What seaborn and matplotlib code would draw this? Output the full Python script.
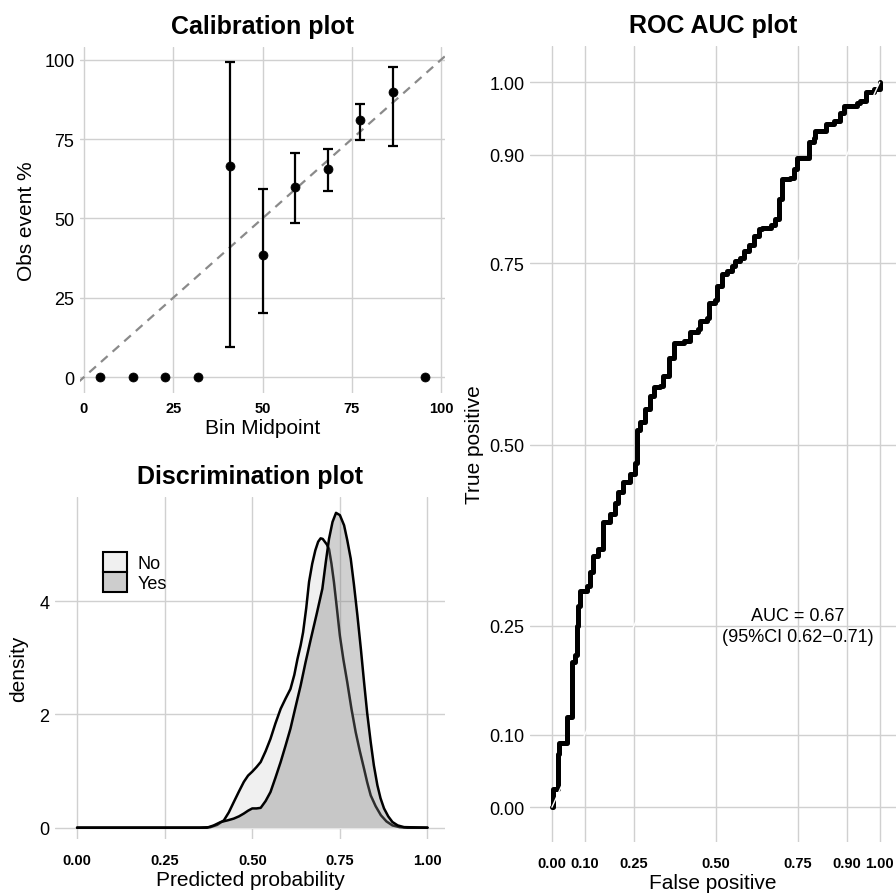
import matplotlib
matplotlib.use("Agg")
import matplotlib.pyplot as plt
from matplotlib.patches import Patch
import seaborn as sns
import pandas as pd

# calibration plot data
bin_mid = [4.5, 13.6, 22.7, 31.8, 40.9, 50.0, 59.1, 68.2, 77.3, 86.4, 95.5]
obs_pct = [0, 0, 0, 0, 66.6, 38.5, 59.8, 65.5, 80.9, 89.7, 0]
ci_low = [0, 0, 0, 0, 9.4, 20.3, 48.6, 58.7, 74.7, 72.7, 0]
ci_high = [0, 0, 0, 0, 99.3, 59.4, 70.6, 71.9, 85.9, 97.7, 0]
has_ci = [False, False, False, False, True, True, True, True, True, True, False]

# discrimination plot (density curves)
no_x = [0.0, 0.25, 0.35, 0.381, 0.40, 0.419, 0.433, 0.447, 0.462, 0.476, 0.488, 0.50,
        0.512, 0.524, 0.538, 0.552, 0.566, 0.581, 0.595, 0.609, 0.62, 0.629, 0.638,
        0.645, 0.654, 0.662, 0.671, 0.68, 0.688, 0.695, 0.701, 0.707, 0.713, 0.719,
        0.726, 0.733, 0.741, 0.75, 0.76, 0.771, 0.783, 0.795, 0.807, 0.819, 0.828,
        0.838, 0.852, 0.867, 0.883, 0.90, 0.92, 0.943, 1.0]
no_d = [0, 0, 0, 0.01, 0.05, 0.13, 0.27, 0.45, 0.64, 0.81, 0.92, 0.99,
        1.07, 1.16, 1.35, 1.57, 1.84, 2.10, 2.28, 2.45, 2.70, 2.98, 3.22,
        3.45, 3.88, 4.34, 4.66, 4.90, 5.05, 5.11, 5.10, 5.05, 5.00, 4.92,
        4.66, 4.34, 3.90, 3.39, 2.97, 2.57, 2.10, 1.69, 1.35, 1.04, 0.80,
        0.57, 0.38, 0.22, 0.11, 0.04, 0.01, 0, 0]
yes_x = [0.0, 0.25, 0.35, 0.371, 0.39, 0.41, 0.43, 0.447, 0.462, 0.476, 0.488, 0.50,
         0.512, 0.524, 0.538, 0.552, 0.566, 0.581, 0.595, 0.609, 0.623, 0.638, 0.652,
         0.667, 0.684, 0.70, 0.71, 0.719, 0.729, 0.739, 0.75, 0.762, 0.771, 0.781,
         0.79, 0.80, 0.81, 0.819, 0.828, 0.838, 0.847, 0.857, 0.866, 0.876, 0.888,
         0.90, 0.915, 0.933, 1.0]
yes_d = [0, 0, 0, 0, 0.04, 0.10, 0.13, 0.16, 0.20, 0.25, 0.30, 0.34,
         0.34, 0.35, 0.47, 0.63, 0.88, 1.16, 1.45, 1.75, 2.12, 2.51, 2.92,
         3.33, 3.78, 4.22, 4.70, 5.10, 5.40, 5.56, 5.52, 5.34, 5.08, 4.75,
         4.30, 3.75, 3.15, 2.57, 2.02, 1.51, 1.10, 0.75, 0.52, 0.34, 0.20,
         0.10, 0.04, 0.01, 0]

# ROC curve points
fpr = [0.0, 0.003, 0.017, 0.02, 0.045, 0.046, 0.06, 0.07, 0.075, 0.08, 0.085, 0.106,
       0.116, 0.126, 0.141, 0.157, 0.177, 0.193, 0.203, 0.218, 0.239, 0.254, 0.259,
       0.269, 0.284, 0.298, 0.31, 0.33, 0.34, 0.356, 0.371, 0.402, 0.422, 0.447,
       0.452, 0.472, 0.478, 0.498, 0.503, 0.519, 0.534, 0.55, 0.56, 0.575, 0.585,
       0.601, 0.616, 0.631, 0.641, 0.667, 0.682, 0.692, 0.702, 0.727, 0.738, 0.748,
       0.779, 0.784, 0.799, 0.804, 0.835, 0.86, 0.88, 0.891, 0.931, 0.941, 0.957,
       0.982, 1.0]
tpr = [0.0, 0.025, 0.073, 0.089, 0.098, 0.124, 0.20, 0.21, 0.25, 0.278, 0.298, 0.305,
       0.324, 0.347, 0.356, 0.393, 0.404, 0.42, 0.435, 0.448, 0.459, 0.475, 0.521,
       0.531, 0.549, 0.567, 0.579, 0.581, 0.595, 0.62, 0.641, 0.643, 0.655, 0.659,
       0.671, 0.675, 0.696, 0.70, 0.719, 0.735, 0.74, 0.747, 0.754, 0.758, 0.767,
       0.776, 0.788, 0.797, 0.799, 0.803, 0.811, 0.839, 0.866, 0.868, 0.88, 0.896,
       0.896, 0.917, 0.923, 0.933, 0.942, 0.946, 0.958, 0.967, 0.971, 0.974, 0.986,
       0.99, 1.0]
roc_ticks = [0.0, 0.10, 0.25, 0.50, 0.75, 0.90, 1.00]
roc_labels = ["0.00", "0.10", "0.25", "0.50", "0.75", "0.90", "1.00"]
auc_text = "AUC = 0.67\n(95%CI 0.62\u22120.71)"

sns.set_theme(style="whitegrid")
plt.rcParams["font.family"] = ["Liberation Sans", "DejaVu Sans"]
plt.rcParams["text.color"] = "black"
plt.rcParams["axes.labelcolor"] = "black"
plt.rcParams["xtick.color"] = "black"
plt.rcParams["ytick.color"] = "black"

fig = plt.figure(figsize=(8.96, 8.95), dpi=100)
ax_cal = fig.add_axes([80 / 896, 1 - 394 / 895, 365 / 896, 346 / 895])
ax_dis = fig.add_axes([55 / 896, 1 - 840 / 895, 390 / 896, 342 / 895])
ax_roc = fig.add_axes([530 / 896, 1 - 843 / 895, 366 / 896, 796 / 895])


def style_axes(ax):
    for s in ax.spines.values():
        s.set_visible(False)
    ax.tick_params(axis="both", length=0)
    ax.tick_params(axis="y", labelsize=13, pad=4)
    ax.tick_params(axis="x", labelsize=10.5, pad=10)
    for lab in ax.get_xticklabels():
        lab.set_fontweight("bold")
    ax.grid(True, color="#d0d0d0", lw=1.0)
    ax.set_axisbelow(True)


# ---- calibration plot
cal = pd.DataFrame({"mid": bin_mid, "obs": obs_pct})
ax_cal.plot([-5, 105], [-5, 105], color="#8a8a8a", lw=1.6, ls=(0, (4, 3)), zorder=1)
for m, o, lo, hi, c in zip(bin_mid, obs_pct, ci_low, ci_high, has_ci):
    if c:
        ax_cal.errorbar(m, o, yerr=[[o - lo], [hi - o]], fmt="none", ecolor="black",
                        elinewidth=1.6, capsize=3.5, capthick=1.6, zorder=2)
sns.scatterplot(data=cal, x="mid", y="obs", ax=ax_cal, color="black", s=42,
                edgecolor="black", zorder=3)
ax_cal.set_xlim(-1.1, 101.1)
ax_cal.set_ylim(-5, 104)
ax_cal.set_xticks([0, 25, 50, 75, 100])
ax_cal.set_yticks([0, 25, 50, 75, 100])
ax_cal.set_xlabel("Bin Midpoint", fontsize=15, labelpad=2)
ax_cal.set_ylabel("Obs event %", fontsize=15, labelpad=6)
ax_cal.set_title("Calibration plot", fontsize=18, fontweight="bold", pad=10)
style_axes(ax_cal)
ax_cal.tick_params(axis="x", pad=6)

# ---- discrimination plot
dno = pd.DataFrame({"x": no_x, "d": no_d})
dyes = pd.DataFrame({"x": yes_x, "d": yes_d})
ax_dis.fill_between(no_x, no_d, color="#f0f0f0", zorder=2)
sns.lineplot(data=dno, x="x", y="d", ax=ax_dis, color="black", lw=1.8,
             estimator=None, sort=False, zorder=3)
ax_dis.fill_between(yes_x, yes_d, color="#7f7f7f", alpha=0.36, lw=0, zorder=4)
sns.lineplot(data=dyes, x="x", y="d", ax=ax_dis, color="black", lw=1.8,
             estimator=None, sort=False, zorder=5)
ax_dis.set_xlim(-0.063, 1.05)
ax_dis.set_ylim(-0.2, 5.84)
ax_dis.set_xticks([0.0, 0.25, 0.5, 0.75, 1.0])
ax_dis.set_xticklabels(["0.00", "0.25", "0.50", "0.75", "1.00"])
ax_dis.set_yticks([0, 2, 4])
ax_dis.set_xlabel("Predicted probability", fontsize=15, labelpad=2)
ax_dis.set_ylabel("density", fontsize=15, labelpad=8)
ax_dis.set_title("Discrimination plot", fontsize=18, fontweight="bold", pad=10)
handles = [Patch(facecolor="#f0f0f0", edgecolor="black", lw=1.5, label="No"),
           Patch(facecolor="#cdcdcd", edgecolor="black", lw=1.5, label="Yes")]
ax_dis.legend(handles=handles, loc="upper left", bbox_to_anchor=(0.105, 0.86),
              frameon=False, fontsize=13, handlelength=1.3, handleheight=1.3,
              handletextpad=0.6, labelspacing=0.0, borderaxespad=0)
style_axes(ax_dis)

# ---- ROC plot
roc = pd.DataFrame({"fpr": fpr, "tpr": tpr})
sns.lineplot(data=roc, x="fpr", y="tpr", ax=ax_roc, color="black", lw=3.6,
             estimator=None, sort=False, drawstyle="steps-post", zorder=3)
ax_roc.plot([0, 1], [0, 1], color="white", lw=1.0, zorder=4)
ax_roc.set_xlim(-0.067, 1.05)
ax_roc.set_ylim(-0.048, 1.05)
ax_roc.set_xticks(roc_ticks)
ax_roc.set_xticklabels(roc_labels)
ax_roc.set_yticks(roc_ticks)
ax_roc.set_yticklabels(roc_labels)
ax_roc.set_xlabel("False positive", fontsize=15, labelpad=2)
ax_roc.set_ylabel("True positive", fontsize=15, labelpad=4)
ax_roc.set_title("ROC AUC plot", fontsize=18, fontweight="bold", pad=10)
ax_roc.text(0.75, 0.25, auc_text, ha="center", va="center", fontsize=13,
            linespacing=1.25, zorder=5)
style_axes(ax_roc)

fig.savefig("out.png", dpi=100)
